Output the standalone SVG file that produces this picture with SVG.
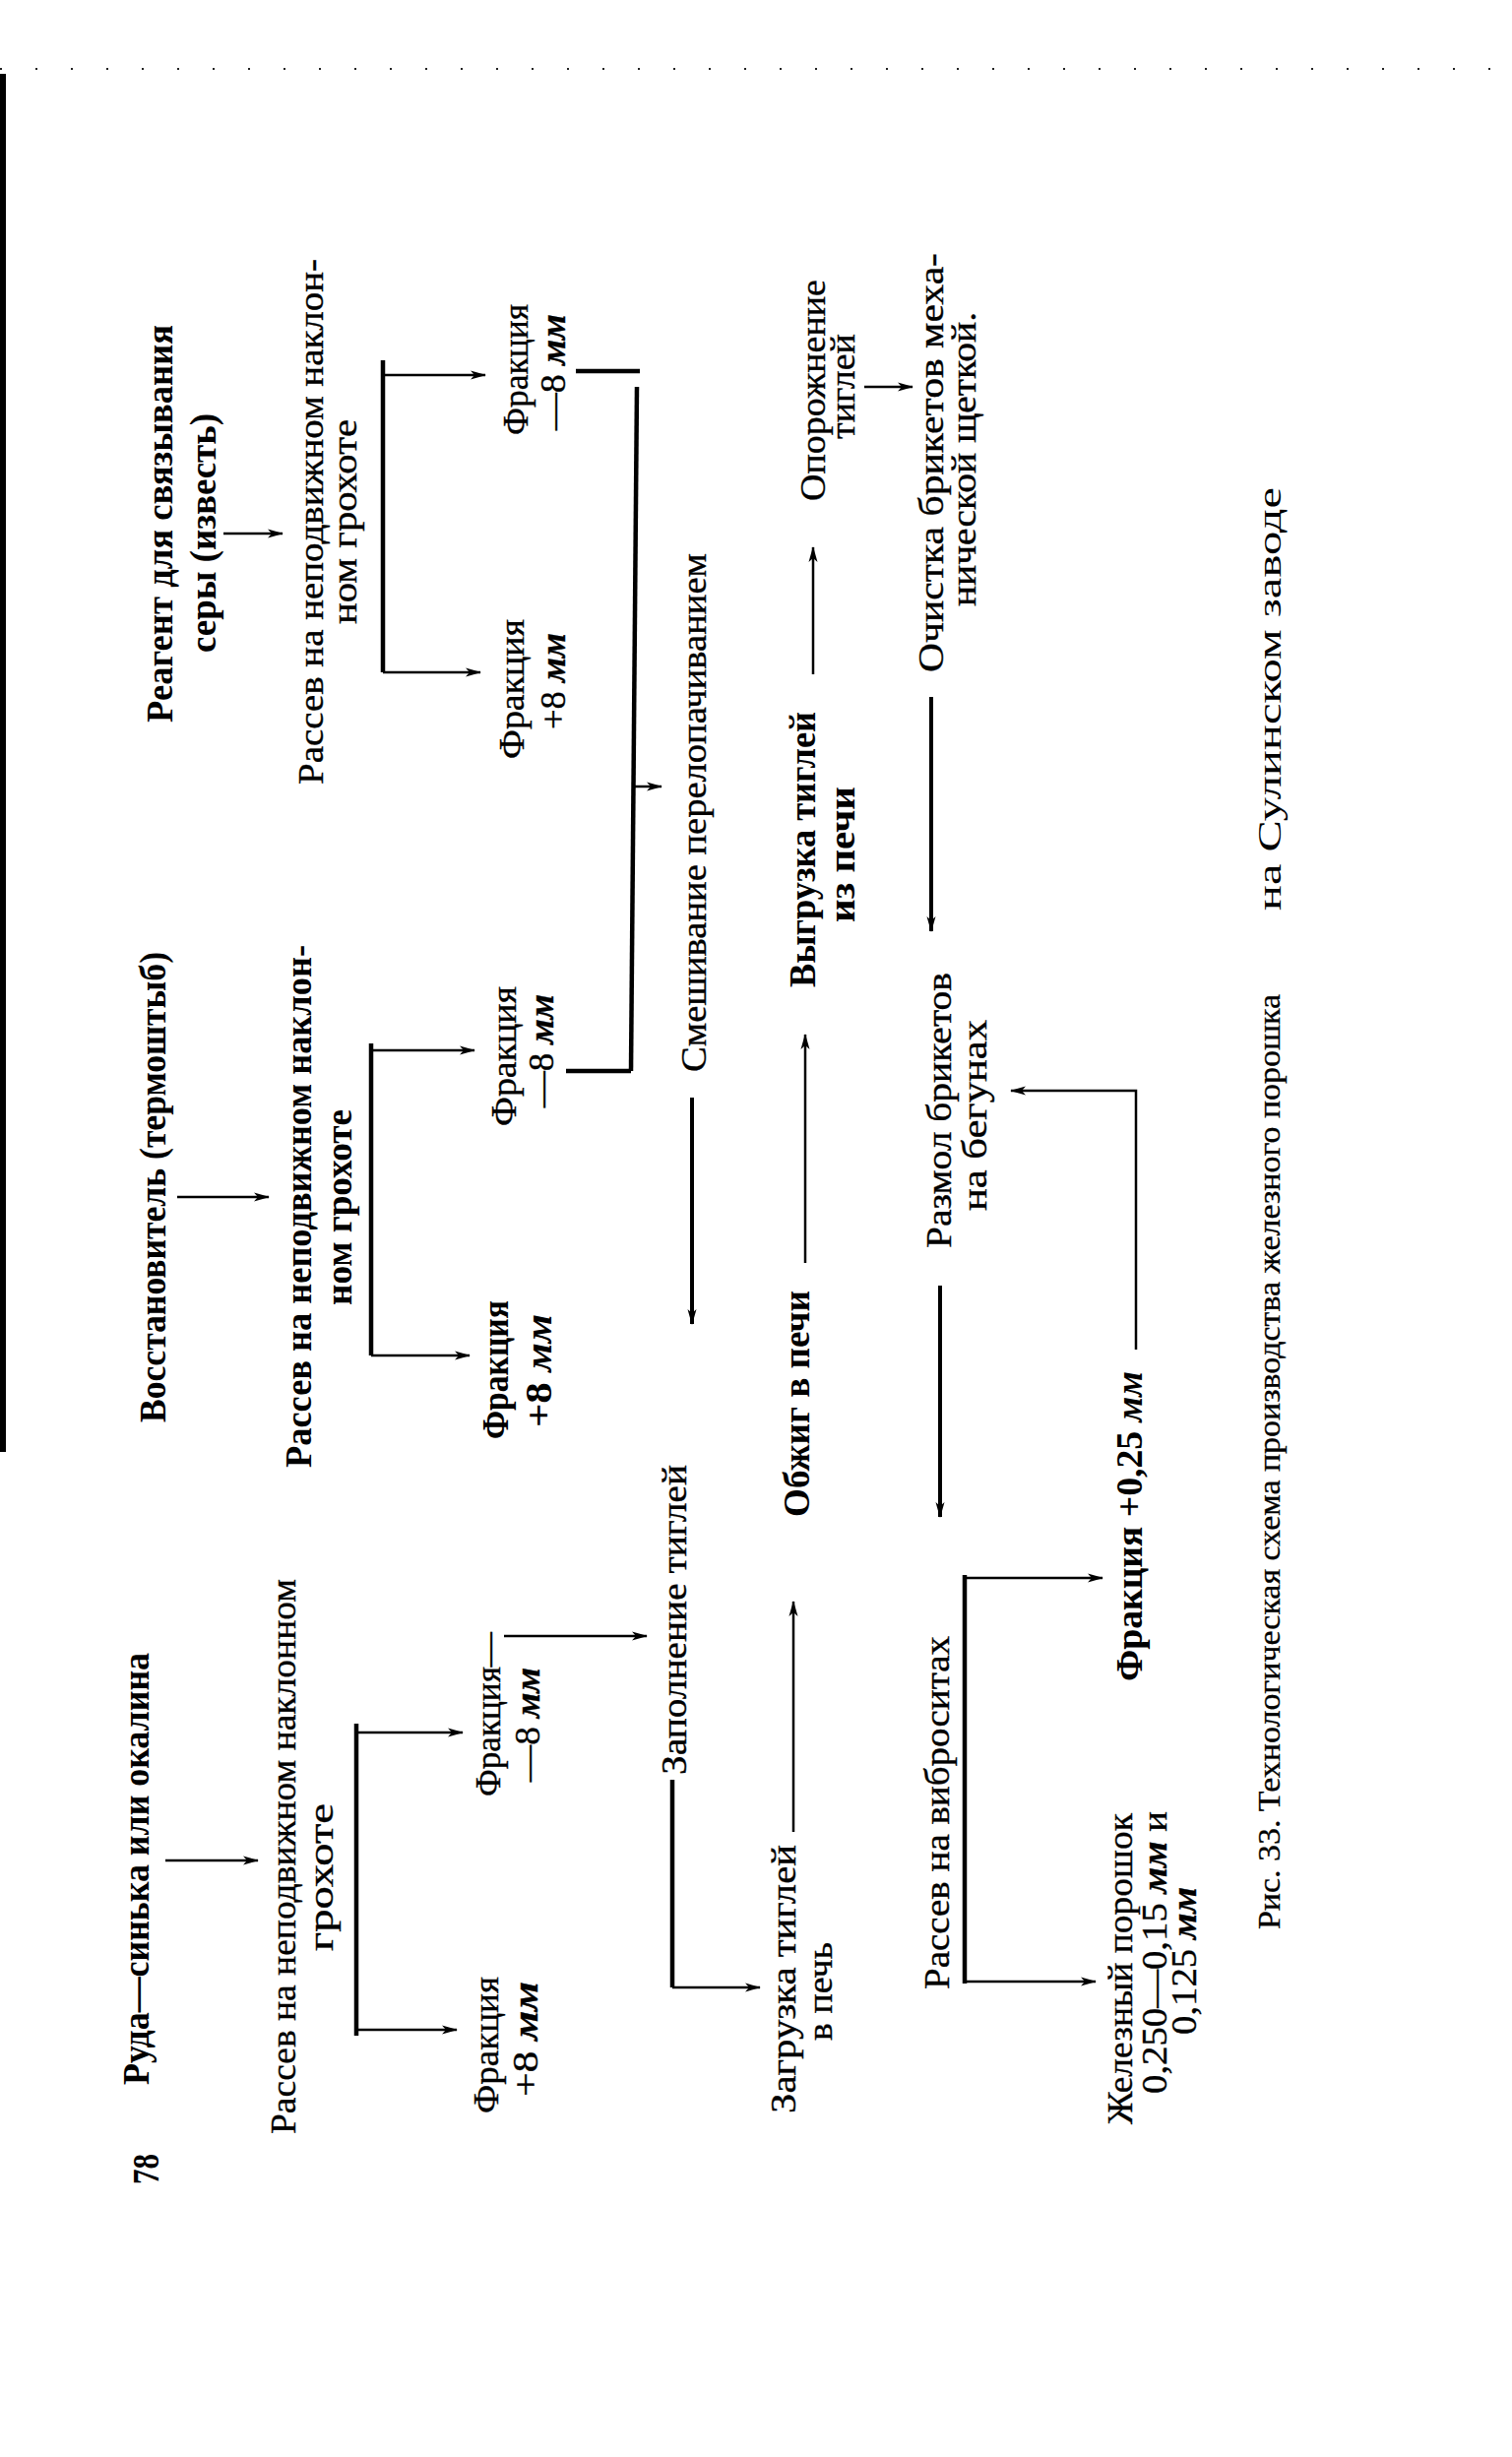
<svg xmlns="http://www.w3.org/2000/svg" width="1536" height="2496" viewBox="0 0 1536 2496">
<defs>
<marker id="ah" viewBox="0 0 16 10" refX="15" refY="5" markerWidth="16" markerHeight="10" markerUnits="userSpaceOnUse" orient="auto">
<path d="M0,0.5 L16,5 L0,9.5 L4,5 Z" fill="#000"/>
</marker>
<style>
text { font-family: "Liberation Serif", "DejaVu Serif", serif; fill: #000; }
.r { font-size: 36px; stroke: #000; stroke-width: 0.35; }
.b { font-size: 38px; font-weight: bold; }
.c { font-size: 31px; stroke: #000; stroke-width: 0.3; }
.mm { font-style: italic; font-weight: bold; }
.ln { stroke: #000; stroke-width: 2.5; fill: none; }
.th { stroke: #000; stroke-width: 4.5; fill: none; }
.ar { stroke: #000; stroke-width: 2.5; fill: none; marker-end: url(#ah); }
.art { stroke: #000; stroke-width: 4; fill: none; marker-end: url(#ah); }
</style>
</defs>
<rect width="1536" height="2496" fill="#fff"/>

<g id="page-edge">
<rect x="0" y="75" width="6" height="1400" fill="#000"/>
<line x1="0" y1="70" x2="1530" y2="70" stroke="#222" stroke-width="2" stroke-dasharray="2 34"/>
</g>

<g id="page-number"><text class="b" font-size="44" transform="translate(161,2219) rotate(-90)" textLength="31" lengthAdjust="spacingAndGlyphs">78</text></g>

<g id="n-ruda"><text class="b" transform="translate(151,2118) rotate(-90)" textLength="439" lengthAdjust="spacingAndGlyphs">Руда—синька или окалина</text></g>
<g id="n-vosst"><text class="b" transform="translate(168,1445) rotate(-90)" textLength="478" lengthAdjust="spacingAndGlyphs">Восстановитель (термоштыб)</text></g>
<g id="n-reagent">
<text class="b" transform="translate(175,734) rotate(-90)" textLength="404" lengthAdjust="spacingAndGlyphs">Реагент для связывания</text>
<text class="b" transform="translate(219,663) rotate(-90)" textLength="243" lengthAdjust="spacingAndGlyphs">серы (известь)</text>
</g>

<g id="n-rassev1">
<text class="r" transform="translate(300,2168) rotate(-90)" textLength="564" lengthAdjust="spacingAndGlyphs">Рассев на неподвижном наклонном</text>
<text class="r" transform="translate(338,1982) rotate(-90)" textLength="150" lengthAdjust="spacingAndGlyphs">грохоте</text>
</g>
<g id="n-rassev2">
<text class="b" transform="translate(316,1491) rotate(-90)" textLength="531" lengthAdjust="spacingAndGlyphs">Рассев на неподвижном наклон-</text>
<text class="b" transform="translate(357,1326) rotate(-90)" textLength="199" lengthAdjust="spacingAndGlyphs">ном грохоте</text>
</g>
<g id="n-rassev3">
<text class="r" transform="translate(328,797) rotate(-90)" textLength="534" lengthAdjust="spacingAndGlyphs">Рассев на неподвижном наклон-</text>
<text class="r" transform="translate(362,634) rotate(-90)" textLength="208" lengthAdjust="spacingAndGlyphs">ном грохоте</text>
</g>

<g id="n-fr1-plus">
<text class="r" transform="translate(506,2147) rotate(-90)" textLength="139" lengthAdjust="spacingAndGlyphs">Фракция</text>
<text class="r" transform="translate(546,2130) rotate(-90)" textLength="117" lengthAdjust="spacingAndGlyphs">+8 <tspan class="mm">мм</tspan></text>
</g>
<g id="n-fr1-minus">
<text class="r" transform="translate(508,1825) rotate(-90)" textLength="167" lengthAdjust="spacingAndGlyphs">Фракция—</text>
<text class="r" transform="translate(548,1810) rotate(-90)" textLength="116" lengthAdjust="spacingAndGlyphs">—8 <tspan class="mm">мм</tspan></text>
</g>
<g id="n-fr2-plus">
<text class="b" transform="translate(516,1462) rotate(-90)" textLength="141" lengthAdjust="spacingAndGlyphs">Фракция</text>
<text class="b" transform="translate(560,1450) rotate(-90)" textLength="115" lengthAdjust="spacingAndGlyphs">+8 <tspan class="mm">мм</tspan></text>
</g>
<g id="n-fr2-minus">
<text class="r" transform="translate(524,1144) rotate(-90)" textLength="142" lengthAdjust="spacingAndGlyphs">Фракция</text>
<text class="r" transform="translate(562,1125) rotate(-90)" textLength="115" lengthAdjust="spacingAndGlyphs">—8 <tspan class="mm">мм</tspan></text>
</g>
<g id="n-fr3-plus">
<text class="r" transform="translate(532,771) rotate(-90)" textLength="142" lengthAdjust="spacingAndGlyphs">Фракция</text>
<text class="r" transform="translate(574,741) rotate(-90)" textLength="98" lengthAdjust="spacingAndGlyphs">+8 <tspan class="mm">мм</tspan></text>
</g>
<g id="n-fr3-minus">
<text class="r" transform="translate(536,442) rotate(-90)" textLength="133" lengthAdjust="spacingAndGlyphs">Фракция</text>
<text class="r" transform="translate(574,437) rotate(-90)" textLength="118" lengthAdjust="spacingAndGlyphs">—8 <tspan class="mm">мм</tspan></text>
</g>

<g id="n-zapolnenie"><text class="r" transform="translate(697,1803) rotate(-90)" textLength="315" lengthAdjust="spacingAndGlyphs">Заполнение тиглей</text></g>
<g id="n-smeshivanie"><text class="r" transform="translate(717,1089) rotate(-90)" textLength="527" lengthAdjust="spacingAndGlyphs">Смешивание перелопачиванием</text></g>

<g id="n-zagruzka">
<text class="r" transform="translate(808,2147) rotate(-90)" textLength="273" lengthAdjust="spacingAndGlyphs">Загрузка тиглей</text>
<text class="r" transform="translate(845,2073) rotate(-90)" textLength="100" lengthAdjust="spacingAndGlyphs">в печь</text>
</g>
<g id="n-obzhig"><text class="b" transform="translate(822,1541) rotate(-90)" textLength="230" lengthAdjust="spacingAndGlyphs">Обжиг в печи</text></g>
<g id="n-vygruzka">
<text class="b" transform="translate(828,1003) rotate(-90)" textLength="280" lengthAdjust="spacingAndGlyphs">Выгрузка тиглей</text>
<text class="b" transform="translate(868,937) rotate(-90)" textLength="138" lengthAdjust="spacingAndGlyphs">из печи</text>
</g>
<g id="n-oporozhnenie">
<text class="r" transform="translate(838,509) rotate(-90)" textLength="225" lengthAdjust="spacingAndGlyphs">Опорожнение</text>
<text class="r" transform="translate(868,446) rotate(-90)" textLength="107" lengthAdjust="spacingAndGlyphs">тиглей</text>
</g>
<g id="n-ochistka">
<text class="r" transform="translate(958,683) rotate(-90)" textLength="426" lengthAdjust="spacingAndGlyphs">Очистка брикетов меха-</text>
<text class="r" transform="translate(991,616) rotate(-90)" textLength="299" lengthAdjust="spacingAndGlyphs">нической щеткой.</text>
</g>
<g id="n-razmol">
<text class="r" transform="translate(966,1268) rotate(-90)" textLength="280" lengthAdjust="spacingAndGlyphs">Размол брикетов</text>
<text class="r" transform="translate(1002,1230) rotate(-90)" textLength="194" lengthAdjust="spacingAndGlyphs">на бегунах</text>
</g>
<g id="n-vibrosita"><text class="r" transform="translate(964,2021) rotate(-90)" textLength="359" lengthAdjust="spacingAndGlyphs">Рассев на виброситах</text></g>
<g id="n-fr-025"><text class="b" transform="translate(1160,1708) rotate(-90)" textLength="315" lengthAdjust="spacingAndGlyphs">Фракция +0,25 <tspan class="mm">мм</tspan></text></g>
<g id="n-poroshok">
<text class="r" transform="translate(1150,2158) rotate(-90)" textLength="316" lengthAdjust="spacingAndGlyphs">Железный порошок</text>
<text class="r" transform="translate(1185,2127) rotate(-90)" textLength="287" lengthAdjust="spacingAndGlyphs">0,250—0,15 <tspan class="mm">мм</tspan> и</text>
<text class="r" transform="translate(1215,2067) rotate(-90)" textLength="150" lengthAdjust="spacingAndGlyphs">0,125 <tspan class="mm">мм</tspan></text>
</g>

<g id="caption">
<text class="c" transform="translate(1300,1960) rotate(-90)" textLength="950" lengthAdjust="spacingAndGlyphs">Рис. 33. Технологическая схема производства железного порошка</text>
<text font-size="34" transform="translate(1301,925) rotate(-90)" textLength="430" lengthAdjust="spacingAndGlyphs">на Сулинском заводе</text>
</g>

<g id="connectors">
<line class="ar" x1="168" y1="1890" x2="262" y2="1890"/>
<line class="ar" x1="180" y1="1216" x2="273" y2="1216"/>
<line class="ar" x1="227" y1="542" x2="287" y2="542"/>

<line class="th" x1="362" y1="1751" x2="362" y2="2068"/>
<line class="ar" x1="362" y1="1760" x2="470" y2="1760"/>
<line class="ar" x1="362" y1="2062" x2="464" y2="2062"/>

<line class="th" x1="377" y1="1060" x2="377" y2="1377"/>
<line class="ar" x1="377" y1="1067" x2="482" y2="1067"/>
<line class="ar" x1="377" y1="1377" x2="477" y2="1377"/>

<line class="th" x1="389" y1="366" x2="389" y2="683"/>
<line class="ar" x1="389" y1="381" x2="493" y2="381"/>
<line class="ar" x1="389" y1="683" x2="488" y2="683"/>

<line class="ar" x1="512" y1="1662" x2="657" y2="1662"/>
<line class="th" x1="683" y1="1808" x2="683" y2="2019"/>
<line class="ar" x1="683" y1="2019" x2="772" y2="2019"/>

<line class="th" x1="575" y1="1088" x2="641" y2="1088"/>
<line class="th" x1="585" y1="377" x2="650" y2="377"/>
<line class="th" x1="641" y1="1088" x2="647" y2="393"/>
<line class="ar" x1="645" y1="799" x2="672" y2="799"/>
<line class="art" x1="703" y1="1115" x2="703" y2="1345"/>

<line class="ar" x1="806" y1="1861" x2="806" y2="1627"/>
<line class="ar" x1="818" y1="1283" x2="818" y2="1051"/>
<line class="ar" x1="826" y1="685" x2="826" y2="556"/>
<line class="ar" x1="878" y1="393" x2="927" y2="393"/>
<line class="art" x1="946" y1="708" x2="946" y2="946"/>
<line class="art" x1="955" y1="1306" x2="955" y2="1541"/>

<line class="th" x1="980" y1="1600" x2="980" y2="2015"/>
<line class="ar" x1="980" y1="1603" x2="1120" y2="1603"/>
<line class="ar" x1="980" y1="2013" x2="1113" y2="2013"/>
<polyline class="ar" points="1154,1371 1154,1108 1027,1108"/>
</g>
</svg>
